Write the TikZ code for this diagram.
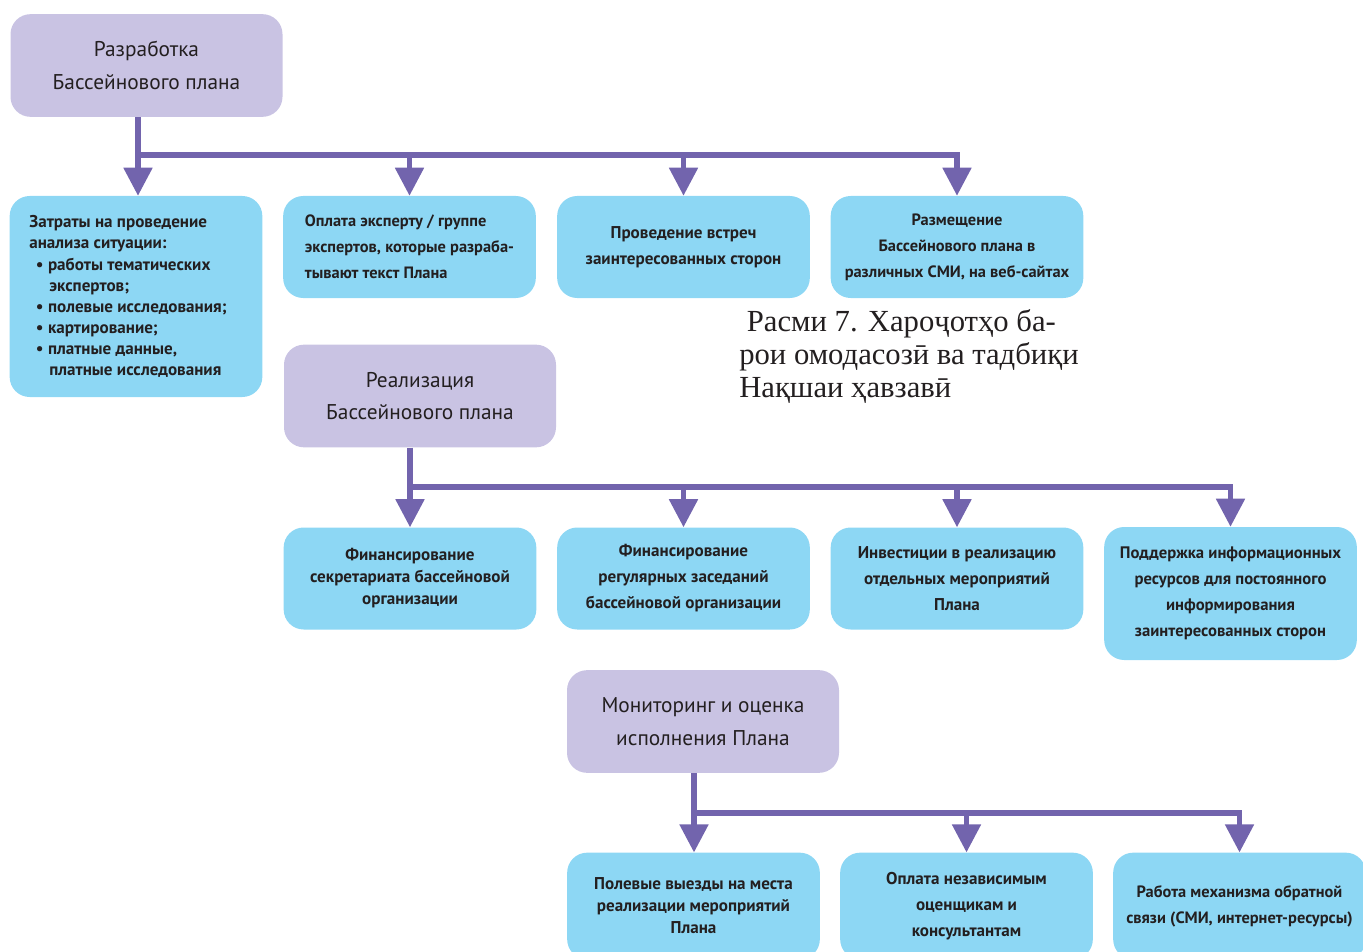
\documentclass[tikz,border=0pt]{standalone}
\usepackage{fontspec}
\setmainfont{PT Sans}
\newfontfamily\capfont{Liberation Serif}
\usetikzlibrary{arrows.meta}
\definecolor{lav}{HTML}{C9C3E3}
\definecolor{sky}{HTML}{8DD7F4}
\definecolor{arr}{HTML}{7264AD}
\definecolor{txt}{HTML}{231F20}
\tikzset{
  head/.style={fill=lav, rounded corners=15pt, inner sep=0pt, align=center,
    minimum width=204pt, minimum height=77pt, font=\fontsize{16}{24.5}\selectfont, text=txt},
  bluebox/.style={fill=sky, rounded corners=15pt, inner sep=0pt, align=center,
    minimum width=189.5pt, minimum height=76.5pt, font=\bfseries\fontsize{12.8}{19.5}\selectfont, text=txt},
  conn/.style={draw=arr, line width=3.8pt},
  arrw/.style={conn, -{Triangle[width=21pt,length=21pt]}},
}
\begin{document}
\begin{tikzpicture}[x=0.75pt,y=-0.75pt]
\useasboundingbox (0,0) rectangle (1363,952);
\clip (0,0) rectangle (1363,952);
% headers
\node[head] (A) at (146.5,65.5) {Разработка\\Бассейнового плана};
\node[head] (C) at (420,396) {Реализация\\Бассейнового плана};
\node[head] (D) at (703,721.5) {Мониторинг и оценка\\исполнения Плана};
% row 1
\node[bluebox, minimum height=150.75pt, align=left, font=\bfseries\fontsize{12.8}{15.8}\selectfont] (B1) at (136,296.5) {%
\begin{minipage}{160pt}
Затраты на проведение\\
анализа ситуации:\\
\hspace*{5pt}\textbullet\ работы тематических\\
\hspace*{15pt}экспертов;\\
\hspace*{5pt}\textbullet\ полевые исследования;\\
\hspace*{5pt}\textbullet\ картирование;\\
\hspace*{5pt}\textbullet\ платные данные,\\
\hspace*{15pt}платные исследования
\end{minipage}};
\node[bluebox, align=left, font=\bfseries\fontsize{12.3}{19.5}\selectfont] (B2) at (409.5,247) {Оплата эксперту / группе\\экспертов, которые разраба-\\тывают текст Плана};
\node[bluebox] (B3) at (683.5,247) {Проведение встреч\\заинтересованных сторон};
\node[bluebox, font=\bfseries\fontsize{12.3}{19.5}\selectfont] (B4) at (957,247) {Размещение\\Бассейнового плана в\\различных СМИ, на веб-сайтах};
% caption
\node[anchor=north west, align=left, inner sep=0pt, font=\capfont\fontsize{23}{24.75}\selectfont, text=txt] (cap) at (739,309)
  {\ Расми 7. Хароҷотҳо ба-\\рои омодасозӣ ва тадбиқи\\Нақшаи ҳавзавӣ};
% row 2
\node[bluebox, font=\bfseries\fontsize{12.8}{16.5}\selectfont] (E1) at (410,578.5) {Финансирование\\секретариата бассейновой\\организации};
\node[bluebox] (E2) at (683.5,578.5) {Финансирование\\регулярных заседаний\\бассейновой организации};
\node[bluebox] (E3) at (957,578.5) {Инвестиции в реализацию\\отдельных мероприятий\\Плана};
\node[bluebox, minimum height=99.75pt, font=\bfseries\fontsize{12.5}{19.5}\selectfont] (E4) at (1230.5,593.5) {Поддержка информационных\\ресурсов для постоянного\\информирования\\заинтересованных сторон};
% row 3
\node[bluebox, minimum height=80pt, font=\bfseries\fontsize{12.8}{16.5}\selectfont] (F1) at (693.5,906) {Полевые выезды на места\\реализации мероприятий\\Плана};
\node[bluebox, minimum height=80pt] (F2) at (966.5,906) {Оплата независимым\\оценщикам и\\консультантам};
\node[bluebox, minimum height=80pt, font=\bfseries\fontsize{12.3}{19.5}\selectfont] (F3) at (1239.5,906) {Работа механизма обратной\\связи (СМИ, интернет-ресурсы)};
% connectors
\coordinate (jA) at (138,155);
\coordinate (jC) at (410,487);
\coordinate (jD) at (694,813);
\draw[arrw] (A.south -| jA) -- (jA) -- (jA |- B1.north);
\draw[arrw] (jA) -- (jA -| B4.north) -- (B4.north);
\draw[arrw] (jA -| B2.north) -- (B2.north);
\draw[arrw] (jA -| B3.north) -- (B3.north);
\draw[arrw] (C.south -| jC) -- (jC) -- (jC |- E1.north);
\draw[arrw] (jC) -- (jC -| E4.north) -- (E4.north);
\draw[arrw] (jC -| E2.north) -- (E2.north);
\draw[arrw] (jC -| E3.north) -- (E3.north);
\draw[arrw] (D.south -| jD) -- (jD) -- (jD |- F1.north);
\draw[arrw] (jD) -- (jD -| F3.north) -- (F3.north);
\draw[arrw] (jD -| F2.north) -- (F2.north);
\end{tikzpicture}
\end{document}
